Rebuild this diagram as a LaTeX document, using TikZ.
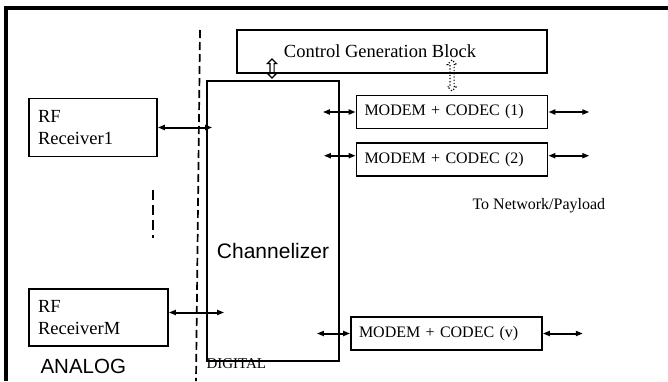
\documentclass[tikz,border=0pt]{standalone}
\usepackage{fontspec}
\setmainfont{Liberation Serif}
\setsansfont{Liberation Sans}
\usetikzlibrary{
  arrows.meta, % for Triangle arrow tip
  positioning, % for relative positioning of the modems
  shapes.arrows % for the hollow double arrows
}
\tikzset{
  block/.style={ % style for each box
    rectangle,draw,line width=1.7pt, % drawn as a thick rectangle
    inner sep=0pt, % no built-in padding
  },
  modem/.style={ % style for the modem + codec boxes
    block, % inherit the block style
    minimum height=33pt,
    text width=175pt,inner xsep=8pt,align=left, % text starts at the left
    font=\fontsize{16}{18}\selectfont,
  },
  rf/.style={ % style for the receivers
    block,
    minimum height=58pt,
    inner xsep=9pt,align=left,
    font=\fontsize{18.5}{21.5}\selectfont,
  },
  conn/.style={ % style for the connections
    {Triangle[length=7pt,width=5pt]}-{Triangle[length=7pt,width=5pt]}, % arrow tips at both ends
    line width=2pt,
  },
  sync/.style={ % hollow up/down arrows
    double arrow,draw,line width=1.2pt,
    shape border rotate=90,
    inner sep=1.5pt,
    double arrow head extend=2.5pt,
  },
  divider/.style={ % dashed line between analog and digital
    line width=1.7pt,dash pattern=on 8pt off 4pt,
  },
}

\begin{document}
\begin{tikzpicture}[x=1pt,y=-1pt]
  \useasboundingbox (0,0) rectangle (668,381);
  \draw[line width=3.5pt] (6,381) -- (6,8) -- (668,8);

  \node[block,minimum width=310pt,minimum height=43pt,
    font=\fontsize{18.5}{21}\selectfont] (ctrl) at (392,51.5)
  {Control Generation Block\hspace*{24pt}};
  \node[block,minimum width=132pt,minimum height=280pt] (chan) at (273,221) {};
  \node[font=\sffamily\fontsize{21}{24}\selectfont] (chantxt) at (273,251)
  {Channelizer};

  \node[modem] (m1) at (452,112)
  {MODEM + CODEC (1)};
  \node[modem,below=13pt of m1] (m2)
  {MODEM + CODEC (2)};
  \node[modem] (mv) at (446.5,333.5)
  {MODEM + CODEC (v)};

  \node[rf,text width=110pt] (rf1) at (93,127.5)
  {RF\\Receiver1};
  \node[rf,text width=121pt,minimum height=57pt] (rfM) at (98.5,317.5)
  {RF\\ReceiverM};

  \node[anchor=base west,font=\fontsize{16}{18}\selectfont] (net) at (469,209)
  {To Network/Payload};
  \node[anchor=base west,font=\sffamily\fontsize{20.5}{24}\selectfont] (analog) at (37,373)
  {ANALOG};
  \node[anchor=base west,font=\fontsize{15}{18}\selectfont] (digital) at (203,368)
  {DIGITAL};

  \node[sync,minimum height=19pt] (s1) at (272,68.5) {};
  \node[sync,dotted,minimum height=31pt] (s2) at (452,75.5) {};

  \draw[divider] (200,30) -- (196,381);
  \draw[divider,dash pattern=on 10pt off 5pt] (153,190) -- (153,238);

  \draw[conn] (rf1.east) -- ([xshift=6pt]rf1.east -| chan.west);
  \draw[conn] ([yshift=5pt]rfM.east) -- ([yshift=5pt,xshift=18pt]rfM.east -| chan.west);

  \draw[conn] ([xshift=-17pt]chan.east |- m1.west) -- (m1.west);
  \draw[conn] ([xshift=-16pt,yshift=4pt]chan.east |- m2.west) -- ([yshift=4pt]m2.west);
  \draw[conn] ([xshift=-23pt]chan.east |- mv.west) -- (mv.west);

  \draw[conn] (m1.east) -- ([xshift=41pt]m1.east);
  \draw[conn] ([yshift=4pt]m2.east) -- ([xshift=41pt,yshift=4pt]m2.east);
  \draw[conn] (mv.east) -- ([xshift=40pt]mv.east);
\end{tikzpicture}
\end{document}
